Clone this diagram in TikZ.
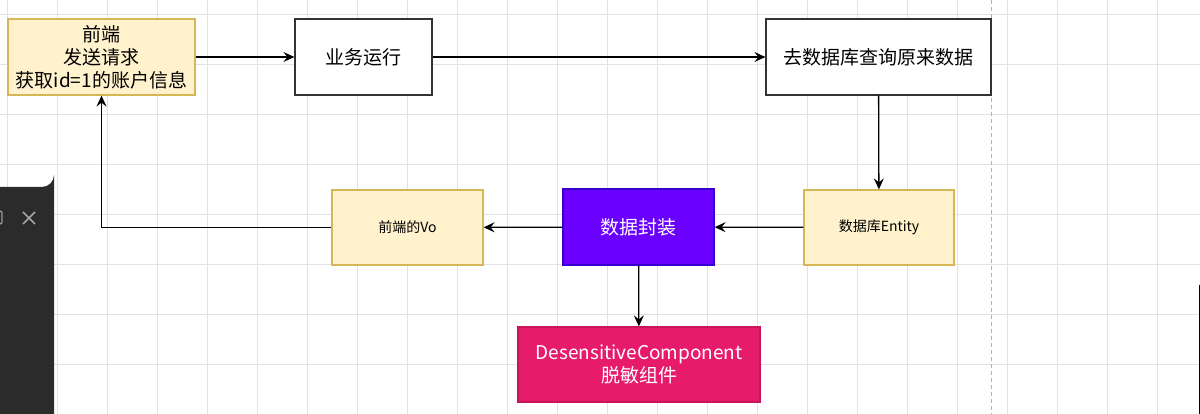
\documentclass[tikz,border=0pt]{standalone}
\usepackage{fontspec}
\setmainfont{Noto Sans CJK SC}
\usetikzlibrary{arrows.meta,positioning}
\definecolor{noteyellow}{RGB}{255,242,204}
\definecolor{noteedge}{RGB}{214,182,86}
\definecolor{wrapviolet}{RGB}{106,0,255}
\definecolor{wrapedge}{RGB}{55,0,204}
\definecolor{maskpink}{RGB}{230,27,108}
\definecolor{maskedge}{RGB}{200,20,90}
\definecolor{gridgray}{RGB}{226,226,226}
\definecolor{panelgray}{RGB}{43,43,43}

\begin{document}
\begin{tikzpicture}[x=1pt, y=-1pt, font=\fontsize{19}{23}\selectfont,
      b/.style={rectangle, draw, line width=1.2pt, align=center, inner sep=2pt, minimum height=76pt},
      note/.style={b, fill=noteyellow, draw=noteedge},
      plain/.style={b, fill=white, draw=black!80},
      flow/.style={-{Stealth[length=11pt, width=10pt, inset=4pt]}, line width=1.3pt, black}]
    % canvas and grid
    \useasboundingbox (0,0) rectangle (1200,414);
    \fill[white] (0,0) rectangle (1200,414);
    \foreach \gx in {7,57,...,1200} \draw[gridgray, line width=0.8pt] (\gx,0) -- (\gx,414);
    \foreach \gy in {14,64,...,414} \draw[gridgray, line width=0.8pt] (0,\gy) -- (1200,\gy);
    \draw[black!30, line width=0.9pt, dash pattern=on 4pt off 3pt] (991,0) -- (991,414);
    % side panel
    \fill[panelgray] (0,187) -- (42,187) arc[start angle=90, end angle=0, radius=12] -- (54,414) -- (0,414) -- cycle;
    \draw[black!40, line width=1.3pt, rounded corners=2pt] (-6,211) rectangle (2,224);
    \draw[black!35, line width=1.5pt] (23,212) -- (35,224) (23,224) -- (35,212);
    \draw[black, line width=1.3pt] (1199.5,285) -- (1199.5,414);

    % boxes
    \node[note, minimum width=187pt] (front) at (101.5,57) {前端\\发送请求\\获取id=1的账户信息};
    \node[plain, minimum width=137pt] (biz) at (363.5,57) {业务运行};
    \node[plain, minimum width=225pt] (query) at (878.5,57) {去数据库查询原来数据};
    \node[note, minimum width=150pt, minimum height=75pt, font=\fontsize{14}{17}\selectfont] (entity) at (879,227.5) {数据库Entity};
    \node[b, fill=wrapviolet, draw=wrapedge, text=white, minimum width=151pt] (wrap) at (638.5,227) {数据封装};
    \node[note, minimum width=151pt, minimum height=75pt, font=\fontsize{14}{17}\selectfont] (vo) at (407.5,227.5) {前端的Vo};
    \node[b, fill=maskpink, draw=maskedge, text=white, minimum width=242pt, minimum height=75pt] (mask) at (639,364.5) {DesensitiveComponent\\脱敏组件};

    % connectors
    \draw[flow] (front) -- (biz);
    \draw[flow] (biz) -- (query);
    \draw[flow] (query) -- (entity);
    \draw[flow] (entity) -- (wrap);
    \draw[flow] (wrap) -- (vo);
    \draw[flow] (wrap) -- (mask);
    \draw[flow] (vo.west) -| (front.south);
  \end{tikzpicture}
\end{document}
